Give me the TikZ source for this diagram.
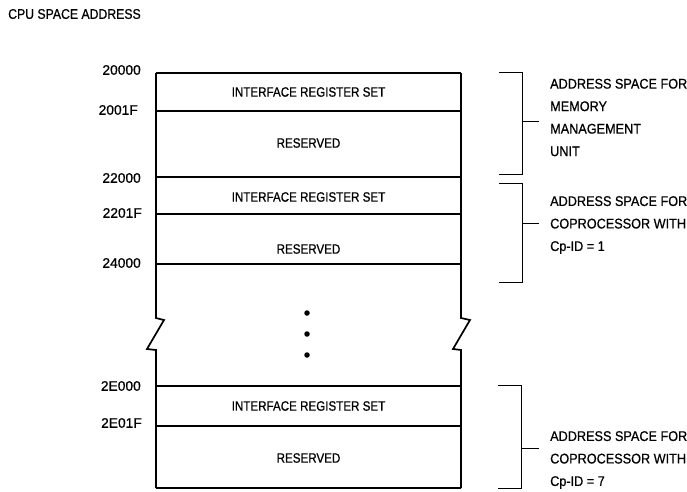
\documentclass[tikz,border=0pt]{standalone}
\usepackage{fontspec}
\setmainfont{Liberation Sans}[FakeStretch=0.86]
\newfontfamily\cellfont{Liberation Sans}[FakeStretch=0.86,FakeBold=0.7]
\newfontfamily\notefont{Liberation Sans}[FakeStretch=0.905,FakeBold=0.7]
\newfontfamily\titlefont{Liberation Sans}[FakeStretch=0.875,FakeBold=0.7]
\newfontfamily\addrfont{Liberation Sans}[FakeStretch=1.0,FakeBold=0.7]
\begin{document}
\begin{tikzpicture}[x=1pt,y=-1pt,
  txt/.style={inner sep=0pt},
  addr/.style={txt, anchor=east, font=\addrfont\fontsize{13.8}{16}\selectfont},
  cell/.style={txt, anchor=center, font=\cellfont\fontsize{13.5}{16}\selectfont},
  note/.style={txt, anchor=west, align=left, font=\notefont\fontsize{14}{22.5}\selectfont},
  frame/.style={line width=1.7pt, line join=miter},
  rule/.style={line width=1.2pt},
  brk/.style={line width=0.9pt},
  dot/.style={circle, fill=black, inner sep=0pt, minimum size=5.5pt}]
\useasboundingbox (0,0) rectangle (687,491);
% title
\node[txt, anchor=west, font=\titlefont\fontsize{14}{16}\selectfont] (title) at (8,14) {CPU SPACE ADDRESS};
% box sides with breaks
\draw[frame] (156,73) -- (156,318) -- (164,320) -- (147,349) -- (156,350) -- (156,488);
\draw[frame] (461,73) -- (461,318) -- (470,320) -- (453,349) -- (461,350) -- (461,488);
% horizontal rules
\draw[rule] (156,73) -- (461,73);
\draw[rule] (156,111) -- (461,111);
\draw[rule] (156,177) -- (461,177);
\draw[rule] (156,214) -- (461,214);
\draw[rule] (156,264) -- (461,264);
\draw[rule] (156,386) -- (461,386);
\draw[rule] (156,426) -- (461,426);
\draw[rule] (156,488) -- (461,488);
% address labels
\node[addr] (a1) at (141,70) {20000};
\node[addr] (a2) at (138,110) {2001F};
\node[addr] (a3) at (141,178) {22000};
\node[addr] (a4) at (142,213) {2201F};
\node[addr] (a5) at (141,263) {24000};
\node[addr] (a6) at (141,386) {2E000};
\node[addr] (a7) at (142,423) {2E01F};
% cell texts
\node[cell] (c1) at (308.5,92) {INTERFACE REGISTER SET};
\node[cell] (c2) at (308.5,143) {RESERVED};
\node[cell] (c3) at (308.5,197) {INTERFACE REGISTER SET};
\node[cell] (c4) at (308.5,249) {RESERVED};
\node[cell] (c5) at (308.5,406) {INTERFACE REGISTER SET};
\node[cell] (c6) at (308.5,458) {RESERVED};
% dots
\node[dot] (d1) at (307,313) {};
\node[dot] (d2) at (307,334) {};
\node[dot] (d3) at (307,355) {};
% notes
\node[note] (n1) at (550,117.5) {ADDRESS SPACE FOR\\MEMORY\\MANAGEMENT\\UNIT};
\node[note] (n2) at (550,225) {ADDRESS SPACE FOR\\COPROCESSOR WITH\\Cp-ID = 1};
\node[note] (n3) at (550,460) {ADDRESS SPACE FOR\\COPROCESSOR WITH\\Cp-ID = 7};
% brackets
\coordinate (t1) at (539,121);
\coordinate (t2) at (539,223);
\coordinate (t3) at (539,448);
\draw[brk] (499,72) -- (522,72) -- (522,174) -- (499,174);
\draw[brk] (522,121) -- (t1);
\draw[brk] (499,183) -- (522,183) -- (522,282) -- (499,282);
\draw[brk] (522,223) -- (t2);
\draw[brk] (498,385) -- (521,385) -- (521,488) -- (498,488);
\draw[brk] (521,448) -- (t3);
\end{tikzpicture}
\end{document}
